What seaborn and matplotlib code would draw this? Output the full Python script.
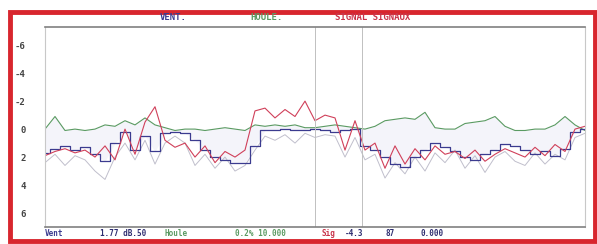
import matplotlib.pyplot as plt
import numpy as np
import pandas as pd
import seaborn as sns
from matplotlib.patches import Rectangle


# Donnees (un point tous les 10 px environ)
green = [0.0, -0.9, 0.1, 0.0, 0.1, 0.0, -0.3, -0.2, -0.6, -0.3, -0.8, -0.3, -0.1, 0.1,
         0.0, 0.0, 0.1, 0.0, -0.1, 0.0, 0.1, -0.3, -0.2, -0.3, -0.2, -0.3, -0.1, -0.1,
         -0.2, -0.3, -0.2, -0.1, 0.0, -0.2, -0.6, -0.7, -0.8, -0.7, -1.2, -0.1, 0.0,
         0.0, -0.4, -0.5, -0.6, -0.9, -0.2, 0.1, 0.1, 0.0, 0.0, -0.3, -0.9, -0.3, 0.1]
blue = [1.7, 1.4, 1.2, 1.5, 1.3, 1.8, 2.3, 1.0, 0.2, 1.5, 0.5, 1.6, 0.3, 0.2,
        0.3, 0.8, 1.5, 2.0, 2.2, 2.4, 2.4, 1.2, 0.1, 0.1, 0.0, 0.1, 0.1, 0.0,
        0.1, 0.2, 0.1, 0.0, 1.2, 1.5, 2.0, 2.5, 2.7, 2.0, 1.5, 1.0, 1.3,
        1.6, 2.0, 2.2, 1.8, 1.5, 1.1, 1.2, 1.5, 1.8, 1.6, 1.9, 1.4, 0.2, 0.0]
red = [1.9, 1.6, 1.4, 1.7, 1.5, 2.0, 1.2, 2.2, 0.0, 1.8, -0.5, -1.6, 0.8, 1.3,
       1.0, 2.0, 1.2, 2.4, 1.6, 2.0, 1.5, -1.3, -1.5, -0.8, -1.4, -0.9, -2.0, -0.6,
       -1.0, -0.8, 1.5, -0.6, 1.5, 1.0, 2.8, 1.2, 2.5, 1.4, 2.2, 1.2, 1.8,
       1.6, 2.1, 1.5, 2.3, 1.8, 1.4, 1.7, 2.0, 1.3, 1.9, 1.1, 1.6, 0.0, -0.2]
gray = [2.4, 1.8, 2.6, 1.9, 2.2, 3.0, 3.6, 2.0, 1.0, 2.2, 0.8, 2.5, 1.0, 0.5,
        1.0, 2.6, 1.8, 2.8, 2.0, 3.0, 2.6, 1.5, 0.5, 0.8, 0.4, 1.0, 0.3, 0.6,
        0.4, 0.5, 2.0, 0.6, 2.2, 1.8, 3.5, 2.4, 3.2, 2.0, 3.0, 1.7, 2.4,
        1.5, 2.8, 1.9, 3.1, 2.0, 1.6, 2.3, 2.6, 1.7, 2.5, 1.8, 2.2, 0.6, 0.3]
markers = [27.0, 31.7]
yticks = [-6, -4, -2, 0, 2, 4, 6]

header = [("VENT.", "#3b3b8f"), ("HOULE.", "#5a9a62"), ("SIGNAL SIGNAUX", "#c8344a")]
footer = [("Vent", "#3b3b8f"), ("1.77 dB.50", "#2e2e70"), ("Houle", "#5a9a62"),
          ("0.2% 10.000", "#5a9a62"), ("Sig", "#c8344a"), ("-4.3", "#2e2e70"),
          ("87", "#2e2e70"), ("0.000", "#2e2e70")]

x = np.arange(len(green))
df = pd.DataFrame({"x": x, "green": green, "blue": blue, "red": red, "gray": gray})

sns.set_style("white")
fig = plt.figure(figsize=(5.97, 2.44), dpi=100)
ax = fig.add_axes([45 / 597, 17 / 244, 540 / 597, 200 / 244])

ax.fill_between(df["x"], df["green"], df["blue"], color="#e2e0f2", alpha=0.35, lw=0)
sns.lineplot(data=df, x="x", y="gray", ax=ax, color="#c0bfcc", lw=0.7)
sns.lineplot(data=df, x="x", y="green", ax=ax, color="#5a9a62", lw=0.8)
sns.lineplot(data=df, x="x", y="blue", ax=ax, color="#3b3b8f", lw=0.9, drawstyle="steps-mid")
sns.lineplot(data=df, x="x", y="red", ax=ax, color="#d0405a", lw=0.8)

for m in markers:
    ax.axvline(m, color="#c0c0c0", lw=0.7)

ax.set_xlim(0, len(green) - 1)
ax.set_ylim(7.0, -7.3)
ax.set_xticks([])
ax.set_yticks(yticks)
ax.set_yticklabels([str(t) for t in yticks], fontsize=6.5, fontweight="bold",
                   color="#444444", family="DejaVu Sans Mono")
ax.tick_params(axis="y", length=0, pad=14)
ax.set_xlabel("")
ax.set_ylabel("")
for side in ["left", "right"]:
    ax.spines[side].set_color("#c8c8c8")
    ax.spines[side].set_linewidth(0.8)
for side in ["top", "bottom"]:
    ax.spines[side].set_color("#808080")
    ax.spines[side].set_linewidth(1.2)

# Titres en haut et valeurs en bas
for (txt, col), px in zip(header, [160, 250, 335]):
    fig.text(px / 597, 1 - 18 / 244, txt, color=col, fontsize=6.5, fontweight="bold",
             family="DejaVu Sans Mono", va="center")
for (txt, col), px in zip(footer, [45, 100, 165, 235, 322, 345, 385, 420]):
    fig.text(px / 597, 1 - 234 / 244, txt, color=col, fontsize=5.5, fontweight="bold",
             family="DejaVu Sans Mono", va="center")

fig.patches.append(Rectangle((9.5 / 597, 3 / 244), 585 / 597, 229 / 244,
                             transform=fig.transFigure, fill=False,
                             edgecolor="#d8262e", lw=3.5))

fig.savefig("out.png", dpi=100)
